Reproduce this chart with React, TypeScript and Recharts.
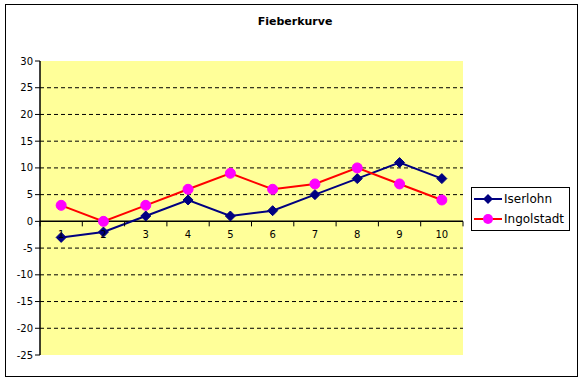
import {
  CartesianGrid,
  ComposedChart,
  Legend,
  Line,
  ReferenceDot,
  ReferenceLine,
  XAxis,
  YAxis,
} from "recharts";

const DAYS = [1, 2, 3, 4, 5, 6, 7, 8, 9, 10];
const ISERLOHN = [-3, -2, 1, 4, 1, 2, 5, 8, 11, 8];
const INGOLSTADT = [3, 0, 3, 6, 9, 6, 7, 10, 7, 4];
const Y_TICKS = [-25, -20, -15, -10, -5, 0, 5, 10, 15, 20, 25, 30];
const GRID = [-20, -15, -10, -5, 5, 10, 15, 20, 25];
const X_MARKS = [0.5, 1.5, 2.5, 3.5, 4.5, 5.5, 6.5, 7.5, 8.5, 9.5, 10.5];

const NAVY = "#000080";
const RED = "#ff0000";
const PINK = "#ff00ff";
const FONT = "'DejaVu Sans', Verdana, sans-serif";

const rows = DAYS.map((d, i) => ({ day: d, iserlohn: ISERLOHN[i], ingolstadt: INGOLSTADT[i] }));

function Diamond(props: any) {
  const { cx, cy } = props;
  if (cx == null || cy == null) return null;
  const r = 5;
  return (
    <path
      d={`M${cx},${cy - r}L${cx + r},${cy}L${cx},${cy + r}L${cx - r},${cy}Z`}
      fill={NAVY}
      stroke={NAVY}
    />
  );
}

function Dot(props: any) {
  const { cx, cy } = props;
  if (cx == null || cy == null) return null;
  return <circle cx={cx} cy={cy} r={5} fill={PINK} stroke={PINK} />;
}

function TickMark(props: any) {
  const { cx, cy } = props;
  if (cx == null || cy == null) return null;
  return <line x1={cx} y1={cy} x2={cx} y2={cy + 5} stroke="#000" />;
}

function LegendBox() {
  const item = (label: string, color: string, marker: React.ReactNode) => (
    <div style={{ display: "flex", alignItems: "center", height: 20 }}>
      <svg width={30} height={12} style={{ marginLeft: 2 }}>
        <line x1={0} y1={6} x2={28} y2={6} stroke={color} strokeWidth={2} />
        {marker}
      </svg>
      <span style={{ fontSize: 12, fontFamily: FONT, color: "#000" }}>{label}</span>
    </div>
  );
  return (
    <div style={{ border: "1px solid #000", background: "#fff", width: 97, padding: "1px 0" }}>
      {item("Iserlohn", NAVY, <path d="M14,1L19,6L14,11L9,6Z" fill={NAVY} />)}
      {item("Ingolstadt", RED, <circle cx={14} cy={6} r={5} fill={PINK} />)}
    </div>
  );
}

export default function App() {
  return (
    <div style={{ position: "absolute", left: 0, top: 0, width: 582, height: 381, background: "#fff" }}>
      <div
        style={{
          position: "absolute",
          left: 5,
          top: 4,
          width: 571,
          height: 371,
          border: "1px solid #000",
        }}
      />
      <div
        style={{
          position: "absolute",
          left: 0,
          width: 590,
          top: 15,
          textAlign: "center",
          fontFamily: FONT,
          fontWeight: "bold",
          fontSize: 11,
        }}
      >
        Fieberkurve
      </div>
      <ComposedChart
        width={582}
        height={381}
        data={rows}
        margin={{ top: 61, right: 119, bottom: 26, left: 0 }}
        style={{ position: "absolute", left: 0, top: 0 }}
      >
        <CartesianGrid horizontal={false} vertical={false} fill="#ffff99" fillOpacity={1} />
        <XAxis dataKey="day" type="number" domain={[0.5, 10.5]} ticks={DAYS} hide />
        <YAxis
          type="number"
          domain={[-25, 30]}
          ticks={Y_TICKS}
          interval={0}
          width={40}
          axisLine={{ stroke: "#000", strokeWidth: 1.5 }}
          tickLine={{ stroke: "#000" }}
          tickSize={5}
          tick={{ fontSize: 10, fill: "#000", fontFamily: FONT }}
        />
        {GRID.map((v) => (
          <ReferenceLine key={v} y={v} stroke="#000" strokeDasharray="4 3" />
        ))}
        <ReferenceLine y={0} stroke="#000" strokeWidth={1.5} />
        {X_MARKS.map((x) => (
          <ReferenceDot key={`m${x}`} x={x} y={0} shape={TickMark} />
        ))}
        {DAYS.map((d) => (
          <ReferenceDot
            key={`l${d}`}
            x={d}
            y={0}
            r={0}
            fill="none"
            stroke="none"
            label={{ value: String(d), position: "bottom", offset: 10, fontSize: 10, fill: "#000", fontFamily: FONT }}
          />
        ))}
        <Line
          dataKey="iserlohn"
          stroke={NAVY}
          strokeWidth={2}
          dot={<Diamond />}
          activeDot={false}
          isAnimationActive={false}
        />
        <Line
          dataKey="ingolstadt"
          stroke={RED}
          strokeWidth={2}
          dot={<Dot />}
          activeDot={false}
          isAnimationActive={false}
        />
        <Legend
          layout="horizontal"
          verticalAlign="middle"
          align="center"
          content={() => <LegendBox />}
          wrapperStyle={{ left: 471, top: 187, width: 99 }}
        />
      </ComposedChart>
    </div>
  );
}
